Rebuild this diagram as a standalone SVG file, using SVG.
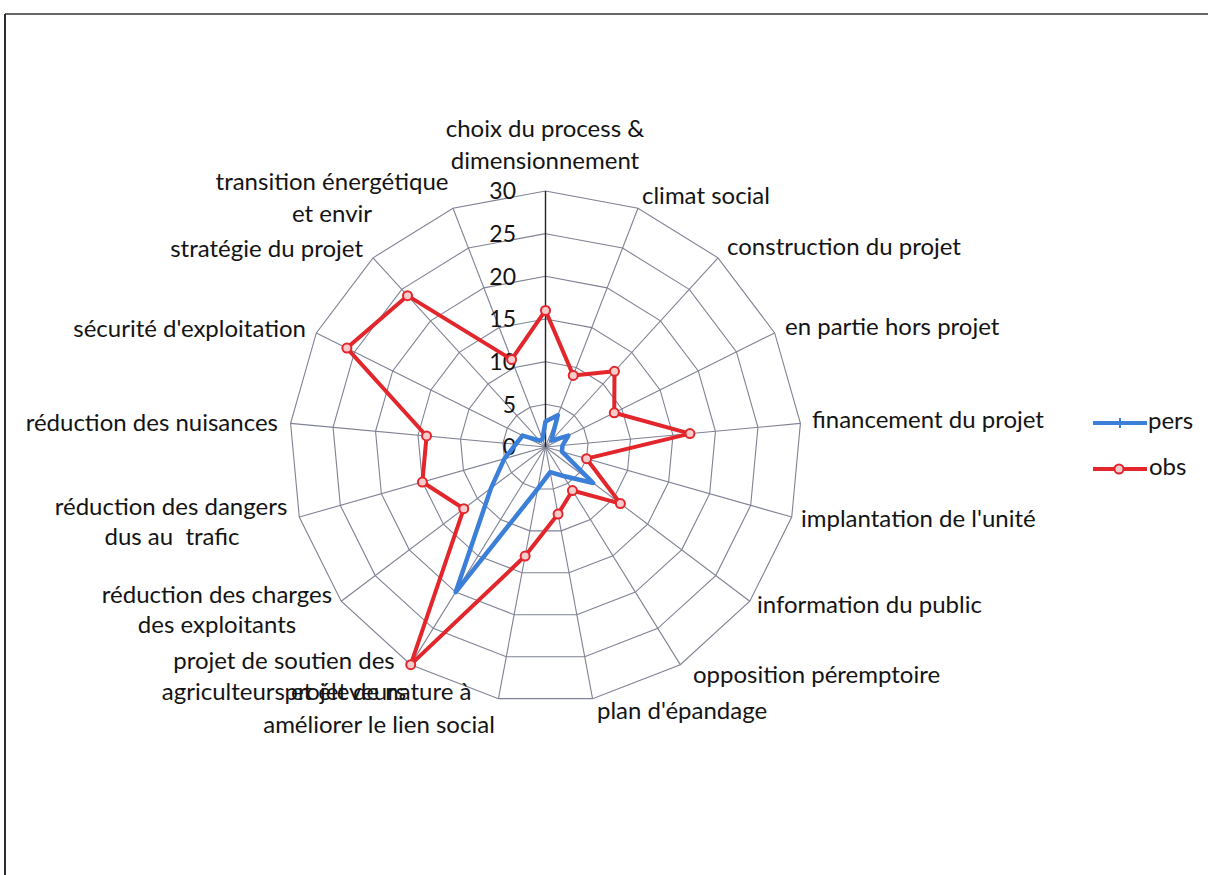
<svg xmlns="http://www.w3.org/2000/svg" xmlns:xlink="http://www.w3.org/1999/xlink" width="1208" height="875" viewBox="0 0 1208 875">
<style>
.lbl{font-family:Lato,"Liberation Sans",sans-serif;font-size:24px;fill:#141414}
.tick{font-family:Lato,"Liberation Sans",sans-serif;font-size:23px;fill:#141414;text-anchor:end}
.ring{fill:none;stroke:#7f8294;stroke-width:1.1;vector-effect:non-scaling-stroke}
.spoke{stroke:#7f8294;stroke-width:1.1}
.obs{fill:none;stroke:#e3262b;stroke-width:4;stroke-linejoin:round}
.pers{fill:none;stroke:#3b7fd9;stroke-width:4.5;stroke-linejoin:round}
.mk{fill:#f7cccc;stroke:#e3262b;stroke-width:2}
</style>
<defs>
<polygon id="ringShape" class="ring" points="0,-256 92.48,-238.71 172.47,-189.19 229.16,-114.11 254.91,-23.62 246.23,70.06 204.29,154.27 134.77,217.66 47.04,251.64 -47.04,251.64 -134.77,217.66 -204.29,154.27 -246.23,70.06 -254.91,-23.62 -229.16,-114.11 -172.47,-189.19 -92.48,-238.71"/>
<circle id="m" class="mk" r="4.5"/>
</defs>
<rect width="1208" height="875" fill="#ffffff"/>
<g id="frame">
<line x1="5" y1="14" x2="1208" y2="14" stroke="#666" stroke-width="2"/>
<line x1="5" y1="14" x2="5" y2="875" stroke="#2a2a38" stroke-width="2"/>
</g>
<g id="grid" transform="translate(545.5,447)">
<use href="#ringShape" transform="scale(0.16667)"/>
<use href="#ringShape" transform="scale(0.33333)"/>
<use href="#ringShape" transform="scale(0.5)"/>
<use href="#ringShape" transform="scale(0.66667)"/>
<use href="#ringShape" transform="scale(0.83333)"/>
<use href="#ringShape"/>
<g class="spoke">
<line x1="0" y1="0" x2="92.48" y2="-238.71"/>
<line x1="0" y1="0" x2="172.47" y2="-189.19"/>
<line x1="0" y1="0" x2="229.16" y2="-114.11"/>
<line x1="0" y1="0" x2="254.91" y2="-23.62"/>
<line x1="0" y1="0" x2="246.23" y2="70.06"/>
<line x1="0" y1="0" x2="204.29" y2="154.27"/>
<line x1="0" y1="0" x2="134.77" y2="217.66"/>
<line x1="0" y1="0" x2="47.04" y2="251.64"/>
<line x1="0" y1="0" x2="-47.04" y2="251.64"/>
<line x1="0" y1="0" x2="-134.77" y2="217.66"/>
<line x1="0" y1="0" x2="-204.29" y2="154.27"/>
<line x1="0" y1="0" x2="-246.23" y2="70.06"/>
<line x1="0" y1="0" x2="-254.91" y2="-23.62"/>
<line x1="0" y1="0" x2="-229.16" y2="-114.11"/>
<line x1="0" y1="0" x2="-172.47" y2="-189.19"/>
<line x1="0" y1="0" x2="-92.48" y2="-238.71"/>
</g>
<line x1="0" y1="0" x2="0" y2="-256" stroke="#222" stroke-width="1.4"/>
</g>
<g id="ticks">
<text class="tick" x="516" y="199">30</text>
<text class="tick" x="516" y="242">25</text>
<text class="tick" x="516" y="285">20</text>
<text class="tick" x="516" y="327">15</text>
<text class="tick" x="516" y="370">10</text>
<text class="tick" x="516" y="413">5</text>
<text class="tick" x="516" y="455">0</text>
</g>
<g id="connectors" transform="translate(545.5,447)">
<polygon id="series-pers" class="pers" points="0,-25.6 12.33,-31.83 5.75,-6.31 22.92,-11.41 17,-1.58 16.42,4.67 47.67,36 17.97,29.02 4.7,25.16 -7.84,41.94 -89.84,145.11 -54.48,41.14 -41.04,11.68 -29.74,-2.76 -22.92,-11.41 -5.75,-6.31 -3.08,-7.96"/>
<polygon id="series-obs" class="obs" points="0,-136.53 27.74,-71.61 68.99,-75.67 68.75,-34.23 144.45,-13.39 41.04,11.68 74.91,56.57 26.95,43.53 12.54,67.11 -20.38,109.04 -134.77,217.66 -81.72,61.71 -123.11,35.03 -118.96,-11.02 -198.61,-98.9 -137.97,-151.35 -33.91,-87.53"/>
<g id="obs-markers">
<use href="#m" x="0" y="-136.53"/>
<use href="#m" x="27.74" y="-71.61"/>
<use href="#m" x="68.99" y="-75.67"/>
<use href="#m" x="68.75" y="-34.23"/>
<use href="#m" x="144.45" y="-13.39"/>
<use href="#m" x="41.04" y="11.68"/>
<use href="#m" x="74.91" y="56.57"/>
<use href="#m" x="26.95" y="43.53"/>
<use href="#m" x="12.54" y="67.11"/>
<use href="#m" x="-20.38" y="109.04"/>
<use href="#m" x="-134.77" y="217.66"/>
<use href="#m" x="-81.72" y="61.71"/>
<use href="#m" x="-123.11" y="35.03"/>
<use href="#m" x="-118.96" y="-11.02"/>
<use href="#m" x="-198.61" y="-98.9"/>
<use href="#m" x="-137.97" y="-151.35"/>
<use href="#m" x="-33.91" y="-87.53"/>
</g>
</g>
<g id="labels" class="lbl">
<g id="n-choix" text-anchor="middle"><text x="545" y="137">choix du process &amp;</text><text x="545" y="169">dimensionnement</text></g>
<text id="n-climat" x="642" y="204">climat social</text>
<text id="n-construction" x="727" y="255">construction du projet</text>
<text id="n-enpartie" x="785" y="335">en partie hors projet</text>
<text id="n-financement" x="812" y="428">financement du projet</text>
<text id="n-implantation" x="801" y="527">implantation de l'unité</text>
<text id="n-information" x="757" y="613">information du public</text>
<text id="n-opposition" x="693" y="683">opposition péremptoire</text>
<text id="n-plan" x="597" y="719">plan d'épandage</text>
<g id="n-nature" text-anchor="middle"><text x="378" y="700">projet de nature à</text><text x="379" y="733">améliorer le lien social</text></g>
<g id="n-soutien" text-anchor="middle"><text x="284" y="669">projet de soutien des</text><text x="284" y="700">agriculteurs et éleveurs</text></g>
<g id="n-charges" text-anchor="middle"><text x="217" y="603">réduction des charges</text><text x="217" y="633">des exploitants</text></g>
<g id="n-dangers" text-anchor="middle"><text x="171" y="515">réduction des dangers</text><text x="172" y="545" xml:space="preserve">dus au  trafic</text></g>
<text id="n-nuisances" x="278" y="431" text-anchor="end">réduction des nuisances</text>
<text id="n-securite" x="306" y="337" text-anchor="end">sécurité d'exploitation</text>
<text id="n-strategie" x="363" y="257" text-anchor="end">stratégie du projet</text>
<g id="n-transition" text-anchor="middle"><text x="332" y="190">transition énergétique</text><text x="332" y="222">et envir</text></g>
</g>
<g id="legend">
<line x1="1093" y1="423" x2="1147" y2="423" stroke="#3b7fd9" stroke-width="4"/>
<line x1="1120" y1="418" x2="1120" y2="428" stroke="#3b7fd9" stroke-width="2"/>
<text class="lbl" x="1148" y="429">pers</text>
<line x1="1093" y1="469" x2="1147" y2="469" stroke="#e3262b" stroke-width="4"/>
<use href="#m" x="1119" y="469"/>
<text class="lbl" x="1149" y="475">obs</text>
</g>
</svg>
